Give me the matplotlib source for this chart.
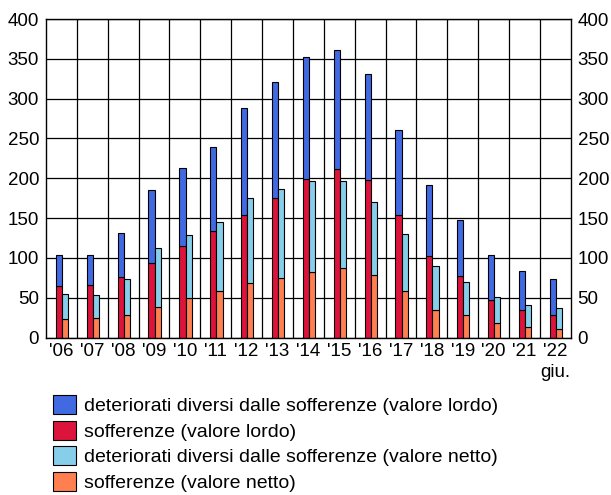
import numpy as np
import matplotlib
matplotlib.use("Agg")
import matplotlib.pyplot as plt
from matplotlib.patches import Patch

plt.rcParams["font.family"] = ["Liberation Sans", "DejaVu Sans"]

anni = ["'06", "'07", "'08", "'09", "'10", "'11", "'12", "'13", "'14",
        "'15", "'16", "'17", "'18", "'19", "'20", "'21", "'22\ngiu."]

# valore lordo
soff_lordo = [64.5, 66, 76, 94, 115, 134, 153.5, 175.7, 198.7, 211, 197.5,
              154, 102, 77.6, 47.4, 35, 28.5]
altri_lordo = [39.5, 37.5, 55.7, 91, 98.4, 105, 134.5, 145.3, 153.3, 150,
               134, 106, 89, 69.4, 56.6, 49, 45.5]
# valore netto
soff_netto = [23.5, 24, 28.5, 38, 49, 59, 69, 75, 82, 87, 78, 58.7, 35,
              28.5, 18, 13, 11]
altri_netto = [31, 30, 44.5, 75, 80, 86.5, 106.7, 112, 114, 110, 92, 70.8,
               54.7, 41.5, 33, 27.7, 26.3]

c_altri_l = "#4169E1"
c_soff_l = "#DC143C"
c_altri_n = "#87CEEB"
c_soff_n = "#FF7F50"

fig = plt.figure(figsize=(6.11, 4.95), dpi=100)
ax = fig.add_axes([46 / 611, 1 - 337.5 / 495, (570.7 - 46) / 611, (337.5 - 19) / 495])

x = np.arange(len(anni))
w = 0.2
kw = dict(width=w, edgecolor="black", linewidth=0.8)
ax.bar(x - 0.08, soff_lordo, color=c_soff_l, **kw)
ax.bar(x - 0.08, altri_lordo, bottom=soff_lordo, color=c_altri_l, **kw)
ax.bar(x + 0.12, soff_netto, color=c_soff_n, **kw)
ax.bar(x + 0.12, altri_netto, bottom=soff_netto, color=c_altri_n, **kw)

ax.set_xlim(-0.5, len(anni) - 0.5)
ax.set_ylim(0, 400)
ax.set_yticks(np.arange(0, 401, 50))
ax.set_xticks(x)
ax.set_xticklabels(anni, fontsize=13.5, multialignment="center", linespacing=1.3)
ax.set_xticks(x[:-1] + 0.5, minor=True)
ax.tick_params(axis="y", labelsize=13.5, length=0, pad=5, labelright=True)
ax.tick_params(axis="x", which="both", length=0, pad=4)
ax.set_axisbelow(True)
ax.grid(axis="y", color="black", linewidth=0.9)
ax.grid(axis="x", which="minor", color="black", linewidth=0.9)
for s in ax.spines.values():
    s.set_linewidth(1.0)

handles = [
    Patch(facecolor=c_altri_l, edgecolor="black", linewidth=0.8),
    Patch(facecolor=c_soff_l, edgecolor="black", linewidth=0.8),
    Patch(facecolor=c_altri_n, edgecolor="black", linewidth=0.8),
    Patch(facecolor=c_soff_n, edgecolor="black", linewidth=0.8),
]
labels = [
    "deteriorati diversi dalle sofferenze (valore lordo)",
    "sofferenze (valore lordo)",
    "deteriorati diversi dalle sofferenze (valore netto)",
    "sofferenze (valore netto)",
]
fig.legend(handles, labels, loc="upper left", bbox_to_anchor=(53 / 611, 1 - 395 / 495),
           frameon=False, fontsize=14, handlelength=1.18, handleheight=1.13,
           labelspacing=0.28, handletextpad=0.4, borderpad=0, borderaxespad=0)

fig.savefig("out.png", dpi=100)
